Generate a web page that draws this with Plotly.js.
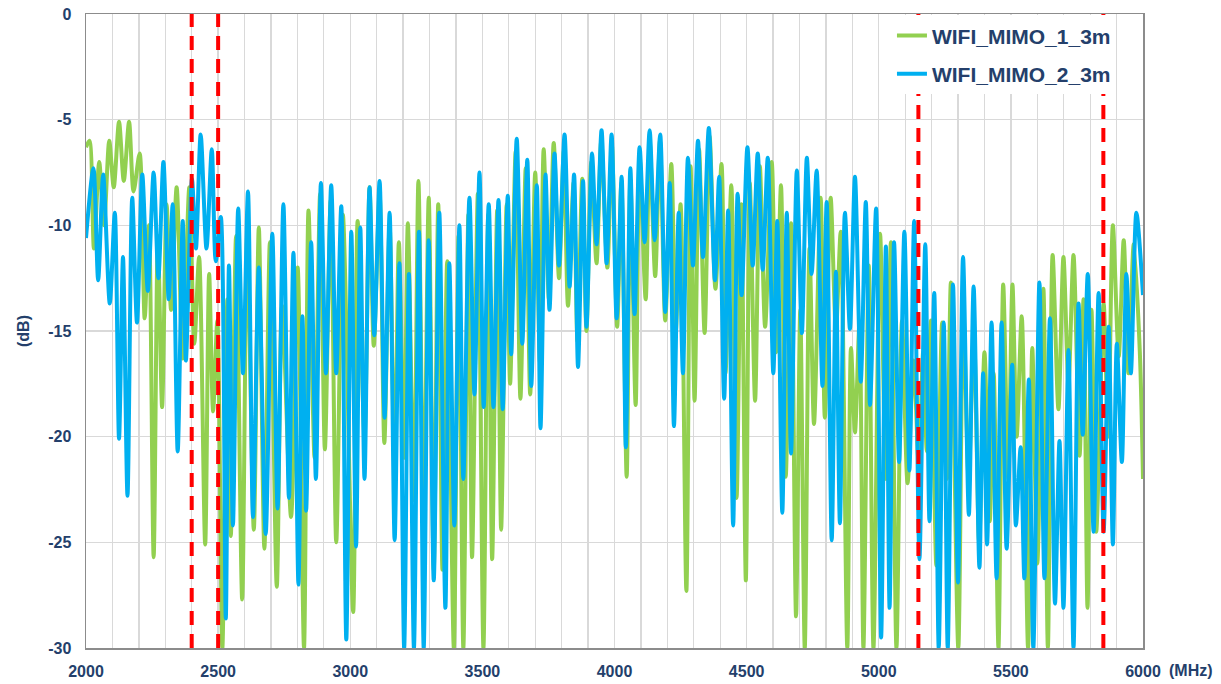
<!DOCTYPE html>
<html>
<head>
<meta charset="utf-8">
<script src="https://cdn.plot.ly/plotly-3.0.1.min.js"></script>
<style>
  html, body { margin: 0; padding: 0; background: #ffffff; }
  #chart { width: 1221px; height: 684px; }
</style>
</head>
<body>
<div id="chart"></div>
<script>
// ---- Data (frequency in MHz, level in dB) ----
const seriesNames = ["WIFI_MIMO_1_3m", "WIFI_MIMO_2_3m"];

const mimo1Freq = [2000,2013,2030,2050,2068,2088,2105,2125,2143,2163,2180,2203,2222,2238,2256,2272,2288,2305,2322,2343,2366,2391,2410,2428,2451,2466,2481,2497,2516,2535,2548,2568,2591,2610,2635,2654,2675,2696,2722,2742,2776,2801,2825,2842,2865,2886,2904,2926,2947,2972,3011,3028,3054,3073,3089,3111,3129,3149,3168,3184,3204,3218,3241,3258,3278,3297,3316,3333,3349,3367,3392,3410,3428,3447,3461,3483,3504,3522,3537,3556,3571,3592,3605,3626,3644,3664,3681,3700,3718,3732,3752,3770,3790,3808,3824,3845,3860,3878,3894,3912,3932,3950,3973,3990,4010,4026,4046,4060,4080,4095,4118,4133,4154,4172,4192,4215,4232,4250,4272,4288,4303,4320,4341,4360,4382,4405,4420,4442,4462,4480,4497,4512,4532,4550,4570,4595,4612,4630,4648,4668,4687,4703,4720,4738,4755,4780,4796,4818,4838,4856,4881,4895,4910,4927,4942,4962,4980,5005,5027,5046,5067,5088,5109,5132,5152,5168,5182,5198,5218,5240,5258,5273,5301,5320,5340,5360,5380,5400,5420,5435,5453,5471,5490,5506,5522,5541,5565,5581,5600,5623,5640,5658,5680,5699,5718,5737,5760,5775,5790,5805,5823,5851,5868,5886,5908,5927,5945,5965,5988,6000];
const mimo1Db = [-6.3,-6.0,-11.1,-7.0,-10.0,-6.0,-8.2,-5.1,-7.9,-5.1,-8.4,-6.6,-14.4,-10.0,-25.7,-10.5,-18.6,-9.0,-14.0,-8.2,-16.3,-8.2,-15.6,-11.5,-25.1,-12.3,-18.8,-14.5,-30,-13.5,-24.7,-10.5,-27.7,-10.5,-24.4,-10.1,-25.3,-10.8,-27.1,-13.8,-23.8,-12.0,-30,-9.3,-21.0,-8.5,-20.6,-8.8,-25.0,-9.5,-28.3,-9.8,-20.0,-8.2,-15.7,-8.5,-20.3,-10.0,-22.0,-10.8,-21.0,-9.9,-23.0,-7.9,-24.0,-8.7,-26.3,-9.0,-26.3,-11.7,-30,-10.5,-30,-9.5,-25.7,-8.5,-30,-9.5,-25.8,-9.3,-24.4,-9.0,-17.5,-6.5,-18.2,-7.3,-18.0,-7.5,-16.5,-6.4,-13.5,-6.1,-12.5,-6.5,-13.8,-8.0,-15.5,-7.8,-15.0,-7.0,-11.8,-6.0,-12.0,-6.2,-14.8,-8.0,-21.9,-7.8,-18.5,-6.8,-13.5,-6.0,-12.4,-6.0,-14.5,-7.1,-15.0,-9.0,-27.3,-7.2,-18.3,-6.4,-15.1,-5.8,-13.0,-7.1,-17.0,-8.1,-22.9,-9.0,-26.8,-8.0,-18.3,-7.2,-14.8,-7.0,-16.0,-8.1,-21.9,-9.9,-28.5,-14.0,-30,-11.1,-19.4,-8.7,-19.1,-8.7,-15.0,-10.3,-30,-15.8,-19.8,-14.6,-30,-11.9,-30,-10.4,-22.0,-10.8,-30,-14.5,-22.2,-16.4,-21.5,-16.0,-20.7,-14.5,-26.1,-14.6,-22.0,-12.7,-30,-14.0,-22.0,-15.0,-25.0,-16.0,-24.0,-17.0,-30,-12.8,-22.0,-12.8,-20.0,-14.3,-30,-15.8,-26.0,-13.0,-30,-11.4,-18.7,-11.5,-17.5,-11.4,-20.9,-13.5,-28.1,-14.0,-24.5,-13.7,-20.0,-10.0,-16.2,-10.7,-17.0,-10.9,-16.0,-22.0];

const mimo2Freq = [2000,2028,2046,2065,2090,2109,2125,2140,2157,2175,2193,2213,2234,2256,2274,2293,2313,2328,2347,2366,2378,2401,2416,2434,2456,2476,2491,2510,2529,2541,2556,2576,2594,2613,2632,2654,2680,2705,2725,2747,2768,2785,2804,2819,2833,2852,2870,2889,2908,2928,2947,2966,2985,3004,3022,3038,3054,3073,3091,3111,3130,3149,3168,3186,3204,3222,3241,3260,3278,3297,3316,3337,3360,3375,3394,3413,3428,3451,3470,3489,3505,3524,3542,3561,3577,3596,3609,3630,3651,3670,3685,3706,3720,3739,3754,3773,3790,3811,3830,3847,3862,3881,3894,3915,3932,3951,3970,3989,4008,4027,4043,4060,4076,4095,4114,4133,4152,4173,4192,4209,4225,4243,4259,4278,4297,4316,4335,4357,4380,4396,4415,4430,4449,4466,4481,4503,4523,4542,4561,4580,4601,4616,4635,4652,4668,4690,4709,4728,4746,4765,4787,4803,4822,4838,4853,4872,4891,4910,4932,4951,4967,4990,5009,5027,5041,5058,5077,5097,5116,5134,5154,5176,5192,5210,5227,5246,5261,5281,5300,5319,5341,5359,5381,5395,5410,5427,5446,5465,5484,5505,5519,5537,5551,5568,5585,5608,5627,5648,5667,5684,5699,5718,5737,5756,5772,5791,5813,5832,5851,5870,5886,5901,5920,5937,5954,5975,6000];
const mimo2Db = [-10.6,-7.3,-12.6,-7.6,-13.7,-9.4,-20.1,-11.5,-22.8,-8.7,-14.6,-7.6,-13.1,-7.5,-12.5,-7.0,-13.5,-9.0,-20.7,-9.8,-16.4,-7.8,-11.1,-5.7,-11.1,-6.4,-11.7,-9.6,-28.6,-11.9,-24.2,-9.2,-17.0,-8.4,-23.8,-12.0,-24.6,-10.4,-23.4,-9.0,-22.9,-11.3,-27.0,-14.3,-23.5,-10.8,-22.0,-8.0,-17.0,-8.1,-17.0,-9.1,-29.6,-10.3,-25.2,-10.1,-22.0,-8.2,-15.2,-7.9,-19.1,-9.4,-24.9,-11.8,-30,-12.3,-30,-10.3,-30,-10.7,-26.8,-9.4,-28.1,-11.8,-24.2,-10.0,-22.0,-8.7,-18.0,-7.5,-18.6,-9.0,-18.6,-8.8,-18.7,-8.6,-16.1,-5.9,-15.6,-6.9,-17.6,-8.1,-19.6,-7.6,-14.0,-6.6,-11.9,-5.7,-12.9,-7.6,-16.7,-7.9,-14.8,-6.6,-10.9,-5.5,-11.8,-5.7,-14.4,-7.7,-20.5,-7.3,-14.2,-6.3,-10.8,-5.5,-10.7,-5.7,-14.1,-8.0,-19.5,-9.4,-17.0,-6.8,-11.9,-6.0,-11.5,-5.4,-12.6,-7.7,-18.2,-9.3,-24.2,-8.5,-13.3,-6.3,-11.9,-6.6,-12.1,-6.8,-17.0,-9.8,-23.6,-9.4,-20.8,-7.4,-15.1,-6.8,-12.3,-7.4,-17.6,-8.9,-24.9,-12.2,-24.1,-9.4,-14.9,-7.7,-17.4,-8.9,-18.5,-9.2,-29.5,-11.0,-28.1,-10.8,-21.2,-10.3,-21.6,-9.8,-25.8,-10.9,-24.0,-13.2,-30,-14.6,-30,-12.8,-26.9,-11.5,-23.7,-12.9,-26.2,-17.0,-25.1,-14.6,-26.7,-14.6,-25.3,-16.6,-24.2,-20.5,-26.7,-17.3,-30,-12.7,-26.7,-14.4,-27.9,-20.2,-28.1,-15.9,-30,-13.7,-19.9,-12.3,-24.5,-13.2,-24.5,-14.8,-25.1,-15.6,-21.2,-12.3,-17.0,-9.4,-13.3];

// band edge markers (MHz)
const bandEdges = [2400, 2500, 5150, 5850];

// axis ticks
const xTicks = [2000, 2500, 3000, 3500, 4000, 4500, 5000, 5500, 6000];
const yTicks = [0, -5, -10, -15, -20, -25, -30];

// ---- Styles ----
const navy = "#243F6B";
const fontFam = "'Liberation Sans', Arial, sans-serif";

const traces = [
  {
    x: mimo1Freq, y: mimo1Db, name: seriesNames[0], type: "scatter", mode: "lines",
    legendgroup: "g1",
    line: { color: "#92D050", width: 4, shape: "spline", smoothing: 0.8 }
  },
  {
    x: mimo2Freq, y: mimo2Db, name: seriesNames[1], type: "scatter", mode: "lines",
    legendgroup: "g2",
    line: { color: "#00B0F0", width: 4, shape: "spline", smoothing: 0.8 }
  }
];

const shapes = bandEdges.map(f => ({
  type: "line", xref: "x", yref: "paper", x0: f, x1: f, y0: 0, y1: 1,
  line: { color: "#FF0000", width: 4, dash: "14px,9px" }, layer: "above"
}));

const layout = {
  width: 1221, height: 684,
  margin: { l: 86, r: 78, t: 14, b: 36 },
  paper_bgcolor: "#ffffff", plot_bgcolor: "#ffffff",
  showlegend: true,
  legend: {
    x: 0.7625, y: 0.998, xanchor: "left", yanchor: "top",
    bgcolor: "#ffffff", borderwidth: 0,
    font: { family: fontFam, size: 21, color: navy, weight: "bold" },
    itemwidth: 30, traceorder: "grouped", tracegroupgap: 8
  },
  xaxis: {
    range: [2000, 6000], autorange: false,
    tickvals: xTicks, ticktext: xTicks.map(String),
    showgrid: false, zeroline: false,
    showline: true, linecolor: "#8C8C8C", linewidth: 1.5, mirror: true,
    ticks: "", ticklabelstandoff: 8,
    tickfont: { family: fontFam, size: 16, color: navy, weight: "bold" },
    minor: { dtick: 100, showgrid: true, gridcolor: "#D9D9D9", gridwidth: 1.3, ticks: "" }
  },
  yaxis: {
    range: [-30, 0], autorange: false,
    tickvals: yTicks, ticktext: yTicks.map(String),
    showgrid: true, gridcolor: "#D9D9D9", gridwidth: 1.3,
    zeroline: false,
    showline: true, linecolor: "#8C8C8C", linewidth: 1.5, mirror: true,
    ticks: "", ticklabelstandoff: 10,
    tickfont: { family: fontFam, size: 16, color: navy, weight: "bold" },
    title: { text: "(dB)", font: { family: fontFam, size: 16, color: navy, weight: "bold" }, standoff: 14 }
  },
  shapes: shapes,
  annotations: [
    {
      text: "(MHz)", xref: "paper", yref: "paper", x: 1.0227, y: 0, yshift: -22,
      xanchor: "left", yanchor: "middle", showarrow: false,
      font: { family: fontFam, size: 16, color: navy, weight: "bold" }
    }
  ]
};

Plotly.newPlot("chart", traces, layout, { displayModeBar: false, staticPlot: true });
</script>
</body>
</html>
